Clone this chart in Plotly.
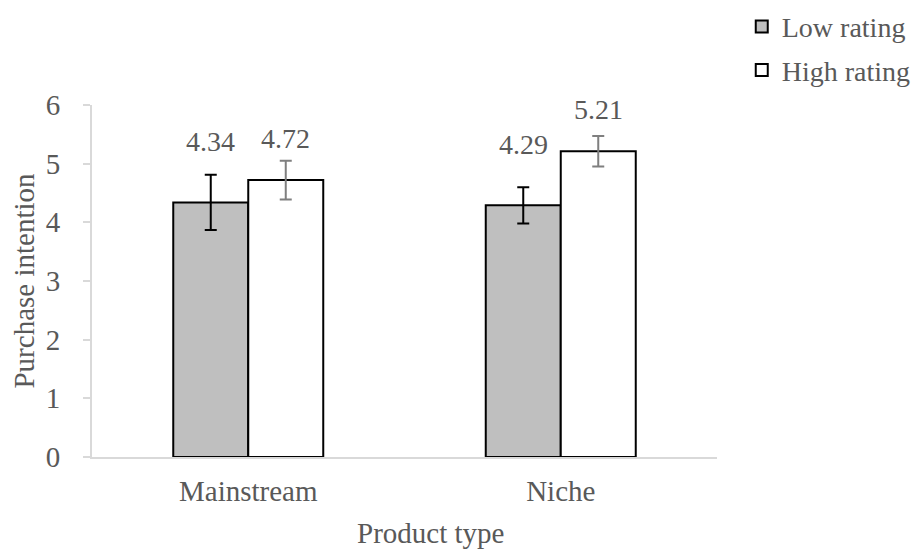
import plotly.graph_objects as go

categories = ["Mainstream", "Niche"]
low_values = [4.34, 4.29]
high_values = [4.72, 5.21]
low_errors = [0.47, 0.31]
high_errors = [0.33, 0.26]
y_ticks = [0, 1, 2, 3, 4, 5, 6]

FONT = "Liberation Serif"
TXT = "#595959"
AX = "#d9d9d9"
FS = 29

fig = go.Figure()
fig.add_trace(go.Bar(
    name="Low rating", x=categories, y=low_values, legendgroup="a",
    marker=dict(color="#bfbfbf", line=dict(color="black", width=2)),
    error_y=dict(type="data", array=low_errors, visible=True, color="black", thickness=2, width=6),
))
fig.add_trace(go.Bar(
    name="High rating", x=categories, y=high_values, legendgroup="b",
    marker=dict(color="white", line=dict(color="black", width=2)),
    error_y=dict(type="data", array=high_errors, visible=True, color="#7f7f7f", thickness=2, width=6),
))

for vals, xs, ys in [(low_values, -37.5, 61), (high_values, 37.5, 42)]:
    for c, v in zip(categories, vals):
        fig.add_annotation(x=c, y=v, text=f"{v:.2f}", showarrow=False, xshift=xs, yshift=ys,
                           yanchor="middle", font=dict(family=FONT, size=28, color=TXT))

# x-axis title, centred on the chart as a whole (slightly right of the plot centre)
fig.add_annotation(xref="paper", yref="paper", x=0.542, y=0, text="Product type", showarrow=False,
                   yanchor="middle", yshift=-76, font=dict(family=FONT, size=FS, color=TXT))

# page body has an 8px default margin, so the figure is offset by 8px
fig.update_layout(
    width=912, height=544,
    margin=dict(l=84, r=203, t=97, b=95, autoexpand=False),
    paper_bgcolor="white", plot_bgcolor="white",
    barmode="group", bargap=0.52, bargroupgap=0,
    font=dict(family=FONT, color=TXT, size=FS),
    legend=dict(x=1.0396, xanchor="left", y=1.293, yanchor="top", traceorder="grouped",
                tracegroupgap=4, font=dict(family=FONT, size=FS - 1, color=TXT), bgcolor="rgba(0,0,0,0)"),
    showlegend=True,
)
fig.update_xaxes(showline=True, linecolor=AX, linewidth=2, ticks="", showgrid=False, automargin=False,
                 ticklabelstandoff=7,
                 tickfont=dict(family=FONT, size=FS, color=TXT))
fig.update_yaxes(range=[0, 6], tickvals=y_ticks, showline=True, linecolor=AX, linewidth=2,
                 ticks="outside", ticklen=7, tickcolor=AX, tickwidth=2, showgrid=False, zeroline=False,
                 automargin=False, ticklabelstandoff=17,
                 tickfont=dict(family=FONT, size=FS, color=TXT),
                 title=dict(text="Purchase intention", font=dict(family=FONT, size=FS, color=TXT)))

fig.write_html("out.html")
